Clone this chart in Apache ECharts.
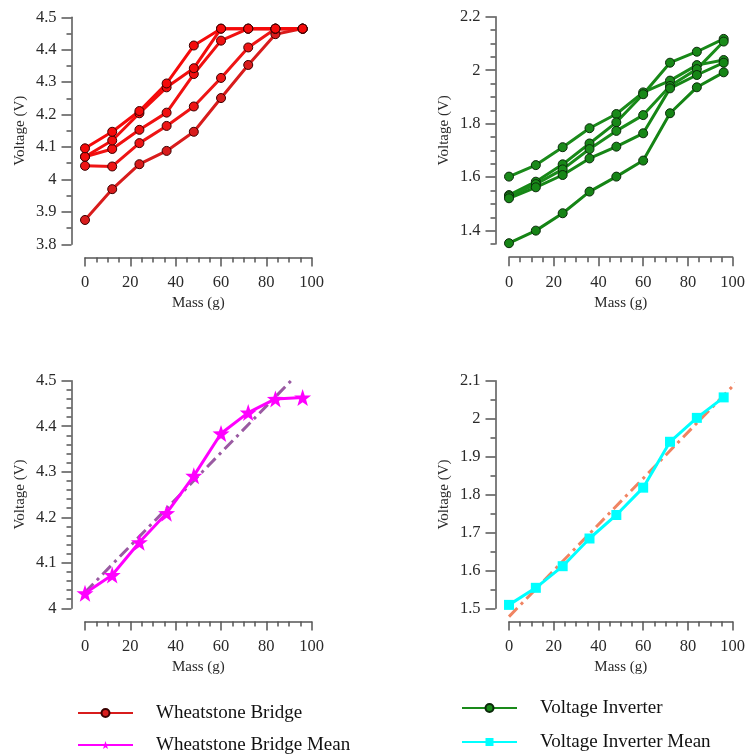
<!DOCTYPE html>
<html>
<head>
<meta charset="utf-8">
<script src="https://cdn.jsdelivr.net/npm/echarts@6/dist/echarts.min.js"></script>
<style>
html,body{margin:0;padding:0;background:#fff;}
#chart{width:748px;height:755px;}
</style>
</head>
<body>
<div id="chart"></div>
<script>
// ---- data ----
const massX = [0, 12, 24, 36, 48, 60, 72, 84, 96];

// Wheatstone bridge runs (V)
const wb1 = [3.875, 3.970, 4.047, 4.088, 4.147, 4.251, 4.353, 4.448, 4.465];
const wb2 = [4.042, 4.040, 4.112, 4.165, 4.225, 4.313, 4.407, 4.465, 4.465];
const wb3 = [4.070, 4.094, 4.153, 4.206, 4.325, 4.428, 4.465, 4.465, 4.465];
const wb4 = [4.070, 4.120, 4.204, 4.284, 4.343, 4.465, 4.465, 4.465, 4.465];
const wb5 = [4.096, 4.147, 4.211, 4.296, 4.413, 4.465, 4.465, 4.465, 4.465];

// Voltage inverter runs (V)
const vi1 = [1.602, 1.645, 1.712, 1.783, 1.836, 1.917, 1.961, 2.019, 2.038];
const vi2 = [1.533, 1.583, 1.648, 1.726, 1.805, 1.910, 2.028, 2.069, 2.117];
const vi3 = [1.528, 1.574, 1.629, 1.705, 1.773, 1.832, 1.941, 2.004, 2.107];
const vi4 = [1.521, 1.562, 1.608, 1.670, 1.714, 1.764, 1.932, 1.982, 2.028];
const vi5 = [1.353, 1.400, 1.465, 1.546, 1.602, 1.662, 1.839, 1.936, 1.992];

// Means
const wbMean = [4.033, 4.073, 4.145, 4.209, 4.291, 4.384, 4.430, 4.460, 4.463];
const viMean = [1.509, 1.554, 1.611, 1.684, 1.746, 1.818, 1.939, 2.002, 2.056];

// Fit line end points
const wbFitX = [0, 96];
const wbFitY = [4.035, 4.526];
const viFitX = [0, 102.4];
const viFitY = [1.478, 2.100];

// Axis tick values
const viMajorTicks = [1.4, 1.6, 1.8, 2.0, 2.2];
const viMinorTicks = [1.35, 1.45, 1.5, 1.55, 1.65, 1.7, 1.75, 1.85, 1.9, 1.95, 2.05, 2.1, 2.15];

// ---- helpers ----
const FONT = 'Liberation Serif';
const AX = '#555';
const TXT = '#2a2a2a';
const zip = (xs, ys) => xs.map((x, i) => [x, ys[i]]);

const grids = [
  {left: 85, width: 226.7, top: 17.3, height: 227},
  {left: 509, width: 226.3, top: 16.7, height: 227.3},
  {left: 85, width: 226.7, top: 380.7, height: 227.6},
  {left: 509, width: 226.3, top: 380.7, height: 227.6}
];

function xAxisCfg(gi) {
  return {
    type: 'value', gridIndex: gi, min: 0, max: 100, interval: 20,
    offset: 13.2,
    name: 'Mass (g)', nameLocation: 'middle', nameGap: 38,
    nameTextStyle: {fontFamily: FONT, fontSize: 15, color: TXT},
    axisLine: {show: true, onZero: false, lineStyle: {color: AX, width: 1.5}},
    axisTick: {show: true, length: 9, lineStyle: {color: AX, width: 1.5}},
    minorTick: {show: true, splitNumber: 4, length: 5, lineStyle: {color: AX, width: 1.5}},
    splitLine: {show: false},
    minorSplitLine: {show: false},
    axisLabel: {fontFamily: FONT, fontSize: 16.5, color: TXT, margin: 17}
  };
}

function yAxisCfg(gi, min, max, interval, split) {
  return {
    type: 'value', gridIndex: gi, min: min, max: max, interval: interval,
    position: 'left', offset: 13.5,
    name: 'Voltage (V)', nameLocation: 'middle', nameGap: 44,
    nameTextStyle: {fontFamily: FONT, fontSize: 15, color: TXT},
    axisLine: {show: true, onZero: false, lineStyle: {color: AX, width: 1.5}},
    axisTick: {show: true, length: 10, lineStyle: {color: AX, width: 1.5}},
    minorTick: {show: true, splitNumber: split, length: 5, lineStyle: {color: AX, width: 1.5}},
    splitLine: {show: false},
    minorSplitLine: {show: false},
    axisLabel: {fontFamily: FONT, fontSize: 16.5, color: TXT, margin: 15}
  };
}

const yAxes = [
  yAxisCfg(0, 3.8, 4.5, 0.1, 2),
  // panel 2 main axis with custom major ticks
  Object.assign(yAxisCfg(1, 1.35, 2.2, 0.05, 1), {
    minorTick: {show: false},
    axisTick: {show: true, length: 10, lineStyle: {color: AX, width: 1.5}, customValues: viMajorTicks},
    axisLabel: {fontFamily: FONT, fontSize: 16.5, color: TXT, margin: 15, customValues: viMajorTicks}
  }),
  yAxisCfg(2, 4.0, 4.5, 0.1, 5),
  yAxisCfg(3, 1.5, 2.1, 0.1, 2),
  // panel 2 minor ticks
  {
    type: 'value', gridIndex: 1, min: 1.35, max: 2.2, position: 'left', offset: 13.5,
    axisLine: {show: false, onZero: false},
    axisTick: {show: true, length: 5, lineStyle: {color: AX, width: 1.5}, customValues: viMinorTicks},
    axisLabel: {show: false},
    splitLine: {show: false}
  }
];

function runSeries(name, data, xi, yi, color, border) {
  return {
    type: 'line', name: name, xAxisIndex: xi, yAxisIndex: yi,
    data: zip(massX, data),
    symbol: 'circle', symbolSize: 9,
    lineStyle: {color: color, width: 3},
    itemStyle: {color: color, borderColor: border, borderWidth: 1},
    z: 3
  };
}

const redCols = ['#d81c1c', '#ee1515', '#f01010', '#f20d0d', '#f50a0a'];
const greenCols = ['#1a8a1a', '#178817', '#1a8c1a', '#168616', '#158415'];

const series = [];
[wb1, wb2, wb3, wb4, wb5].forEach((d, i) => series.push(runSeries('Wheatstone Bridge', d, 0, 0, redCols[i], '#3a0000')));
[vi1, vi2, vi3, vi4, vi5].forEach((d, i) => series.push(runSeries('Voltage Inverter', d, 1, 1, greenCols[i], '#0a2a0a')));

series.push({
  type: 'line', name: 'wbfit', xAxisIndex: 2, yAxisIndex: 2,
  data: zip(wbFitX, wbFitY), symbol: 'none',
  lineStyle: {color: '#9a5aa2', width: 3, type: [12, 5, 3, 5]}, z: 2
});
series.push({
  type: 'line', name: 'Wheatstone Bridge Mean', xAxisIndex: 2, yAxisIndex: 2,
  data: zip(massX, wbMean), symbol: 'path://M0,-10L2.35,-3.24L9.51,-3.09L3.8,1.24L5.88,8.09L0,4L-5.88,8.09L-3.8,1.24L-9.51,-3.09L-2.35,-3.24Z',
  symbolSize: 17,
  lineStyle: {color: '#ff00ff', width: 3},
  itemStyle: {color: '#ff00ff'}, z: 3
});
series.push({
  type: 'line', name: 'vifit', xAxisIndex: 3, yAxisIndex: 3, clip: false,
  data: zip(viFitX, viFitY), symbol: 'none',
  lineStyle: {color: '#f08462', width: 3, type: [12, 5, 3, 5]}, z: 2
});
series.push({
  type: 'line', name: 'Voltage Inverter Mean', xAxisIndex: 3, yAxisIndex: 3,
  data: zip(massX, viMean), symbol: 'rect', symbolSize: 10,
  lineStyle: {color: '#00ffff', width: 3},
  itemStyle: {color: '#00ffff'}, z: 3
});

const legendText = {fontFamily: FONT, fontSize: 19, color: '#111', lineHeight: 20, padding: [0, 0, 0, 18]};
function legendItem(name, left, top) {
  return {data: [name], left: left, top: top, padding: 0, itemWidth: 55, itemHeight: 10,
          textStyle: legendText, selectedMode: false};
}

const option = {
  animation: false,
  backgroundColor: '#fff',
  grid: grids,
  xAxis: [xAxisCfg(0), xAxisCfg(1), xAxisCfg(2), xAxisCfg(3)],
  yAxis: yAxes,
  legend: [
    legendItem('Wheatstone Bridge', 77, 703),
    legendItem('Wheatstone Bridge Mean', 77, 735),
    legendItem('Voltage Inverter', 461, 698),
    legendItem('Voltage Inverter Mean', 461, 732)
  ],
  series: series
};

const chart = echarts.init(document.getElementById('chart'), null, {renderer: 'canvas'});
chart.setOption(option);
</script>
</body>
</html>
